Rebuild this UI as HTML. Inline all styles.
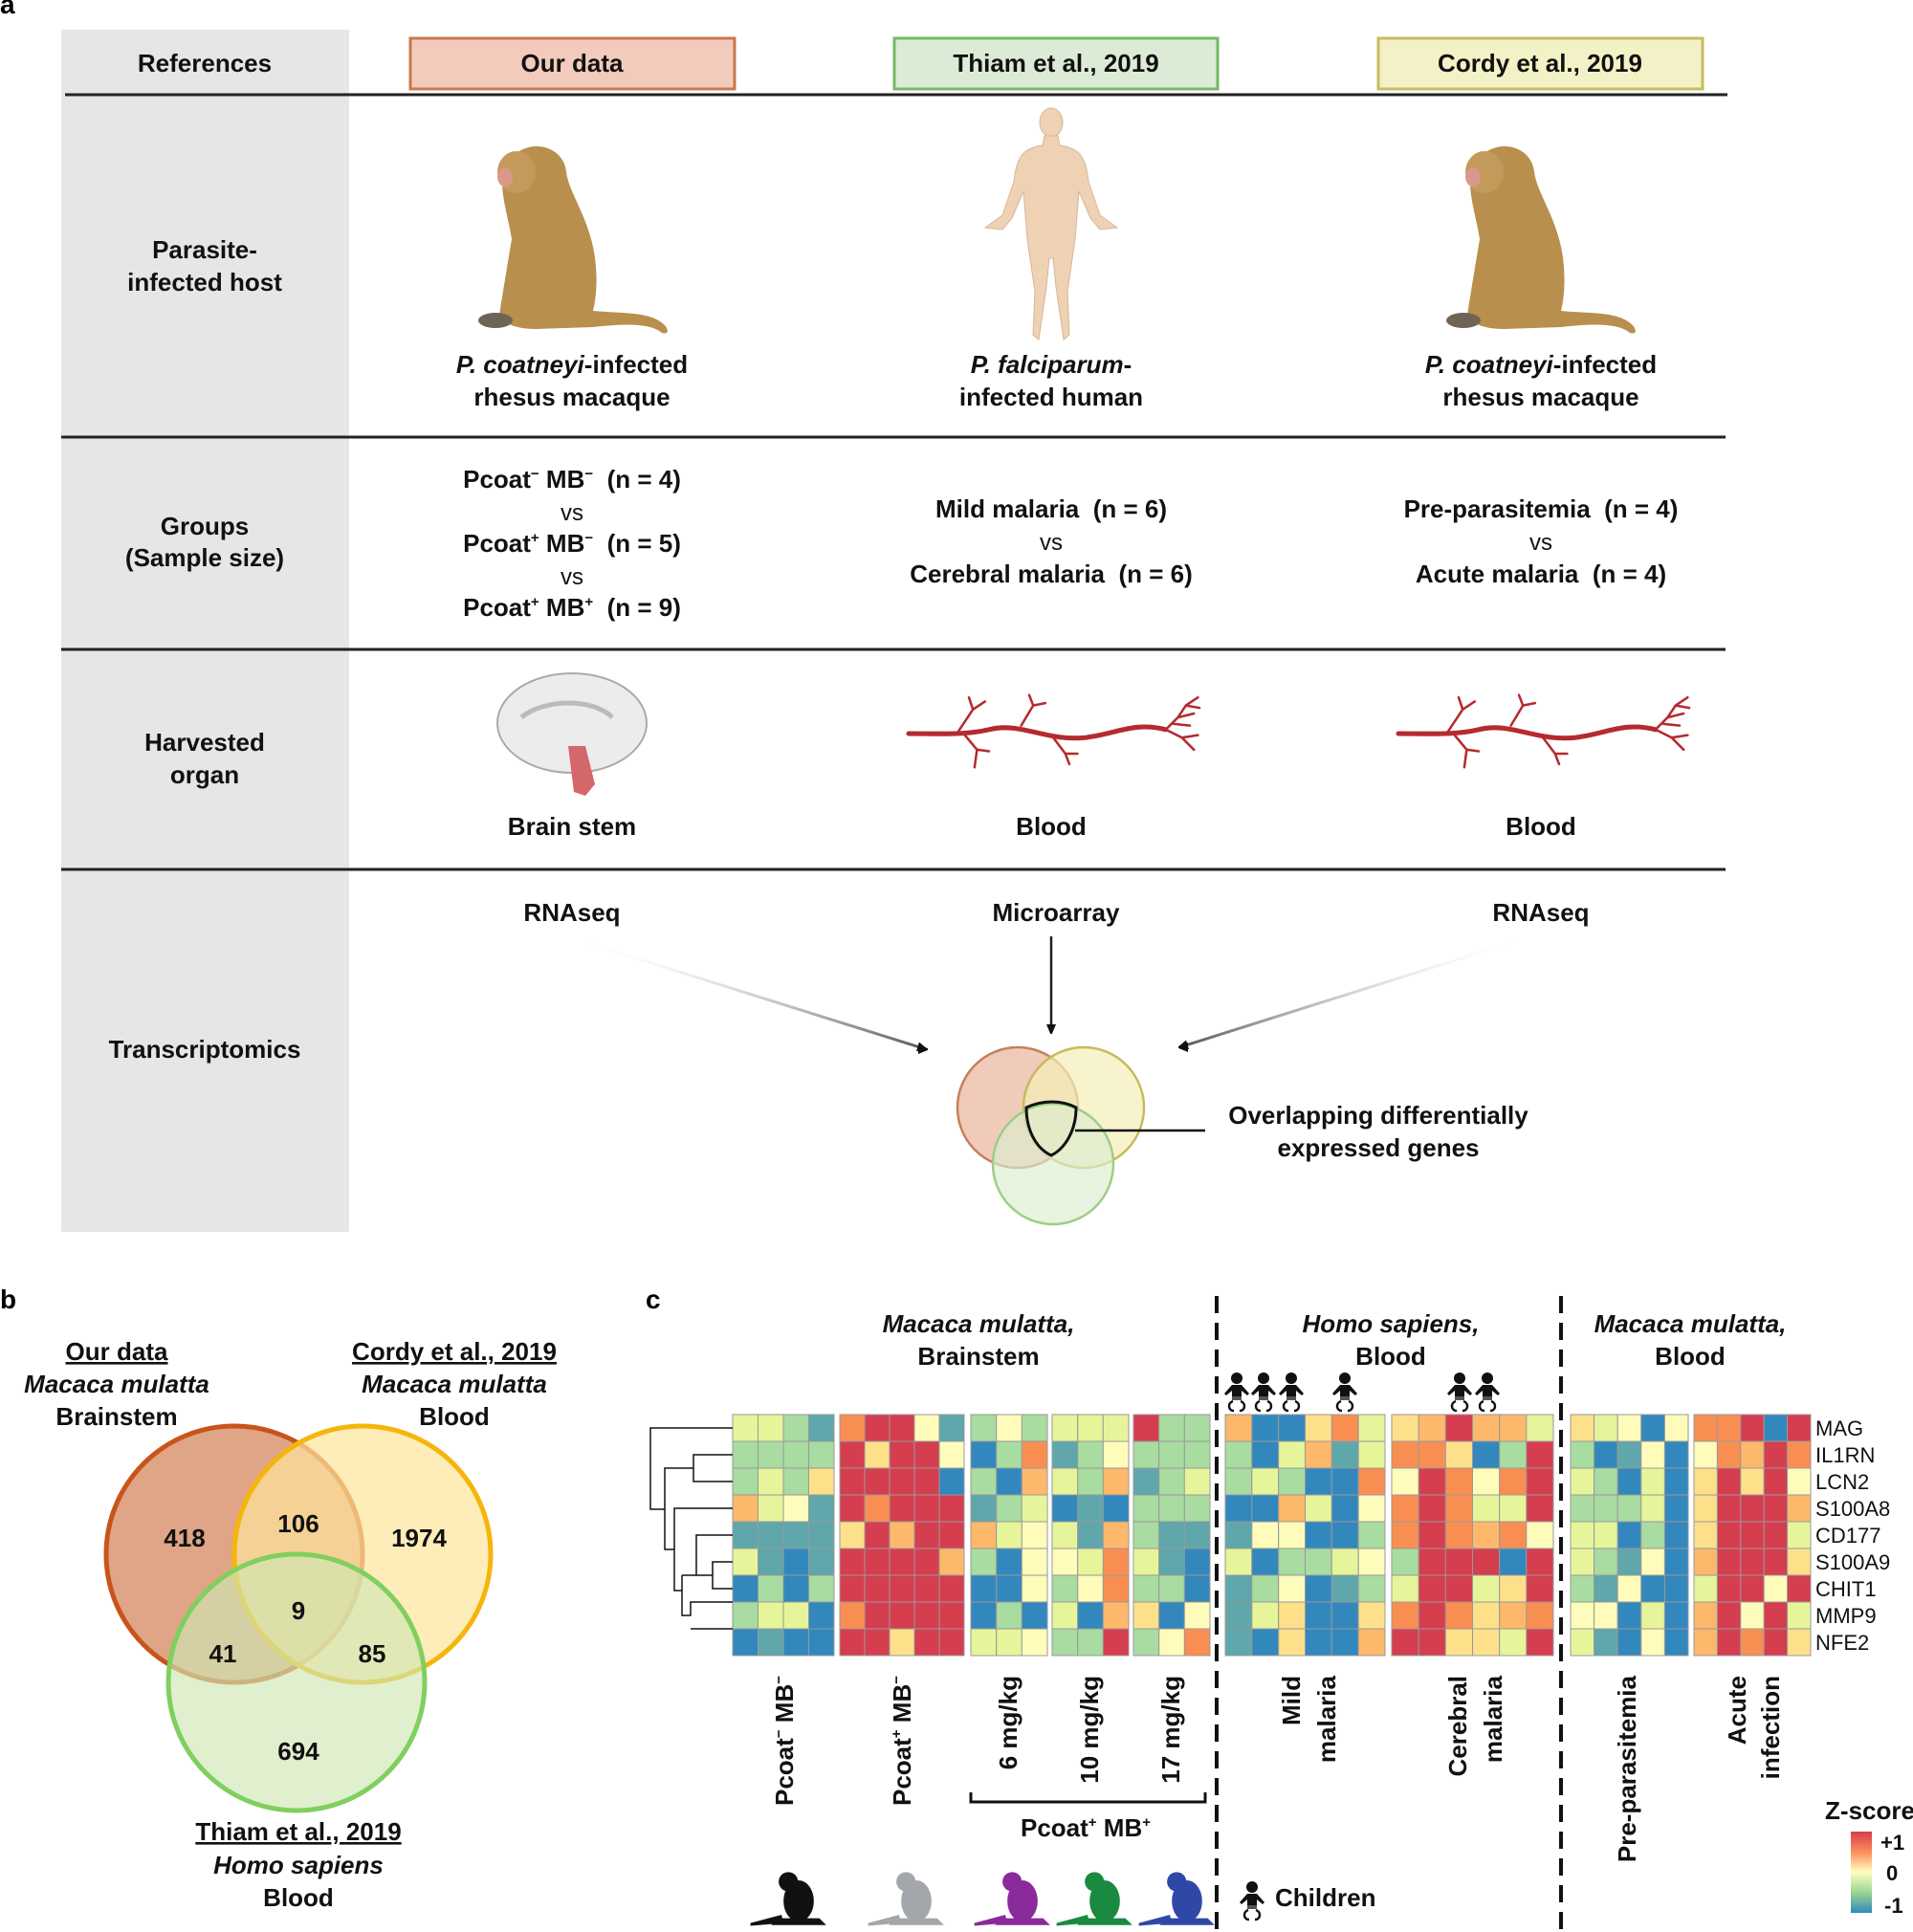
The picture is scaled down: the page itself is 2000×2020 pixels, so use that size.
<!DOCTYPE html>
<html><head><meta charset="utf-8"><style>
html,body{margin:0;padding:0;background:#fff;}
svg{display:block;font-family:"Liberation Sans",Arial,sans-serif;}
.t{font-size:26px;font-weight:bold;fill:#111;text-anchor:middle;}
.n{font-size:24px;fill:#111;text-anchor:middle;}
.i{font-style:italic;}
</style></head><body>
<svg id="s" width="2000" height="2020" viewBox="0 0 2000 2020" xmlns="http://www.w3.org/2000/svg">
<defs>
<marker id="ah" markerWidth="10" markerHeight="10" refX="9" refY="5" orient="auto" markerUnits="userSpaceOnUse"><path d="M0,0 L12,5 L0,10 Z" fill="#111"/></marker>
<linearGradient id="zg" x1="0" y1="0" x2="0" y2="1"><stop offset="0" stop-color="#d53e4f"/><stop offset="0.25" stop-color="#fc8d59"/><stop offset="0.5" stop-color="#ffffbf"/><stop offset="0.75" stop-color="#99d594"/><stop offset="1" stop-color="#3288bd"/></linearGradient>
<linearGradient id="ga1" x1="0" y1="0" x2="1" y2="0"><stop offset="0" stop-color="#fff" stop-opacity="0"/><stop offset="1" stop-color="#555"/></linearGradient>
<linearGradient id="ga2" x1="1" y1="0" x2="0" y2="0"><stop offset="0" stop-color="#fff" stop-opacity="0"/><stop offset="1" stop-color="#555"/></linearGradient>
<g id="monkey">
<path d="M-30,-120 C-10,-135 20,-125 22,-100 C25,-80 40,-60 48,-30 C55,-5 55,25 50,45 C80,48 110,45 125,60 C130,66 128,70 122,68 C110,58 85,58 50,62 L-10,64 C-30,64 -45,58 -48,50 C-45,30 -40,0 -35,-30 C-38,-50 -45,-70 -45,-90 Z" fill="#b88f4d"/>
<ellipse cx="-30" cy="-100" rx="20" ry="22" fill="#c49a5a"/>
<ellipse cx="-42" cy="-95" rx="8" ry="10" fill="#d79a8a"/>
<ellipse cx="-52" cy="55" rx="18" ry="8" fill="#6f6357"/>
</g>
<g id="vessel" fill="none" stroke="#b52a2e" stroke-linecap="round">
<path d="M0,50 C40,50 70,52 100,45 C140,35 170,60 220,55 C260,50 280,35 320,45" stroke-width="6"/>
<path d="M60,50 L80,20 L95,10 M80,20 L75,5 M70,52 L85,70 L82,92 M85,70 L100,72 M140,40 L155,15 M155,15 L150,2 M155,15 L170,12 M180,55 L195,75 L200,88 M195,75 L210,75 M320,45 L335,30 L345,15 M335,30 L355,25 M320,45 L340,55 L355,70 M340,55 L360,52 M330,38 L350,40 M345,15 L360,5 M345,15 L362,18" stroke-width="3"/>
</g>
<g id="sil">
<ellipse cx="0" cy="-20" rx="22" ry="30"/>
<circle cx="-15" cy="-48" r="14"/>
<path d="M-30,5 L30,5 L40,15 L-40,15 Z"/>
<path d="M-25,0 L-70,12 L-70,16 L-22,12 Z"/>
</g>
<g id="baby" fill="#111">
<circle cx="0" cy="-12" r="6"/>
<path d="M-5,-5 L5,-5 L13,4 L11,6 L5,1 L5,8 L-5,8 L-5,1 L-11,6 L-13,4 Z"/>
<rect x="-5" y="7" width="10" height="4" fill="#555"/>
<path d="M-4,12 C-10,14 -9,22 -3,22 M4,12 C10,14 9,22 3,22" stroke="#111" stroke-width="2.5" fill="none"/>
</g>
</defs>

<!-- PANEL A -->
<text x="0" y="14" font-size="28" font-weight="bold">a</text>
<rect x="64" y="31" width="301" height="1257" fill="#e6e6e6"/>
<line x1="68" y1="99" x2="1806" y2="99" stroke="#222" stroke-width="3"/>
<line x1="64" y1="457" x2="1804" y2="457" stroke="#222" stroke-width="3"/>
<line x1="64" y1="679" x2="1804" y2="679" stroke="#222" stroke-width="3"/>
<line x1="64" y1="909" x2="1804" y2="909" stroke="#222" stroke-width="3"/>

<rect x="429" y="40" width="339" height="53" fill="#f2cbbd" stroke="#c8794d" stroke-width="3"/>
<rect x="935" y="40" width="338" height="53" fill="#dcebd6" stroke="#78b866" stroke-width="3"/>
<rect x="1441" y="40" width="339" height="53" fill="#f3f1c6" stroke="#c8bb60" stroke-width="3"/>
<text class="t" x="598" y="75">Our data</text>
<text class="t" x="1104" y="75">Thiam et al., 2019</text>
<text class="t" x="1610" y="75">Cordy et al., 2019</text>
<text class="t" x="214" y="75">References</text>

<text class="t" x="214" y="270">Parasite-</text>
<text class="t" x="214" y="304">infected host</text>
<text class="t" x="214" y="559">Groups</text>
<text class="t" x="214" y="592">(Sample size)</text>
<text class="t" x="214" y="785">Harvested</text>
<text class="t" x="214" y="819">organ</text>
<text class="t" x="214" y="1106">Transcriptomics</text>

<use href="#monkey" x="570" y="280"/>
<use href="#monkey" x="1582" y="280"/>
<!-- human -->
<g fill="#efd2b4" stroke="#d6b699" stroke-width="1">
<ellipse cx="1099" cy="128" rx="12" ry="15"/>
<path d="M1092,142 L1106,142 L1108,152 C1130,155 1135,165 1138,190 L1150,225 L1168,238 L1150,240 L1140,228 L1128,200 L1124,250 L1116,305 L1118,350 L1112,355 L1104,300 L1101,270 L1097,270 L1094,300 L1086,355 L1080,350 L1082,305 L1074,250 L1070,200 L1058,228 L1048,240 L1030,238 L1048,225 L1060,190 C1063,165 1068,155 1090,152 Z"/>
</g>
<text class="t" x="598" y="390"><tspan class="i">P. coatneyi</tspan>-infected</text>
<text class="t" x="598" y="424">rhesus macaque</text>
<text class="t" x="1099" y="390"><tspan class="i">P. falciparum</tspan>-</text>
<text class="t" x="1099" y="424">infected human</text>
<text class="t" x="1611" y="390"><tspan class="i">P. coatneyi</tspan>-infected</text>
<text class="t" x="1611" y="424">rhesus macaque</text>

<text class="t" x="598" y="510">Pcoat<tspan font-size="15" dy="-10">−</tspan><tspan dy="10"> MB</tspan><tspan font-size="15" dy="-10">−</tspan><tspan dy="10">&#160;&#160;(n = 4)</tspan></text>
<text class="n" x="598" y="544">vs</text>
<text class="t" x="598" y="577">Pcoat<tspan font-size="15" dy="-10">+</tspan><tspan dy="10"> MB</tspan><tspan font-size="15" dy="-10">−</tspan><tspan dy="10">&#160;&#160;(n = 5)</tspan></text>
<text class="n" x="598" y="611">vs</text>
<text class="t" x="598" y="644">Pcoat<tspan font-size="15" dy="-10">+</tspan><tspan dy="10"> MB</tspan><tspan font-size="15" dy="-10">+</tspan><tspan dy="10">&#160;&#160;(n = 9)</tspan></text>
<text class="t" x="1099" y="541">Mild malaria&#160;&#160;(n = 6)</text>
<text class="n" x="1099" y="575">vs</text>
<text class="t" x="1099" y="609">Cerebral malaria&#160;&#160;(n = 6)</text>
<text class="t" x="1611" y="541">Pre-parasitemia&#160;&#160;(n = 4)</text>
<text class="n" x="1611" y="575">vs</text>
<text class="t" x="1611" y="609">Acute malaria&#160;&#160;(n = 4)</text>

<!-- brain -->
<ellipse cx="598" cy="756" rx="78" ry="52" fill="#ececec" stroke="#aaa" stroke-width="2"/>
<path d="M545,750 C570,730 620,730 640,750" fill="none" stroke="#bbb" stroke-width="5"/>
<path d="M594,780 L612,780 L622,820 L612,832 L600,828 Z" fill="#d4676a"/>
<use href="#vessel" transform="translate(950,725) scale(0.84)"/>
<use href="#vessel" transform="translate(1462,725) scale(0.84)"/>
<text class="t" x="598" y="873">Brain stem</text>
<text class="t" x="1099" y="873">Blood</text>
<text class="t" x="1611" y="873">Blood</text>

<text class="t" x="598" y="963">RNAseq</text>
<text class="t" x="1104" y="963">Microarray</text>
<text class="t" x="1611" y="963">RNAseq</text>
<line x1="598" y1="981" x2="968" y2="1097" stroke="url(#ga1)" stroke-width="3" marker-end="url(#ah)"/>
<line x1="968" y1="1097" x2="969" y2="1097" stroke="#333" stroke-width="3" marker-end="url(#ah)"/>
<line x1="1099" y1="979" x2="1099" y2="1080" stroke="#222" stroke-width="2.5" marker-end="url(#ah)"/>
<line x1="1601" y1="979" x2="1233" y2="1095" stroke="url(#ga2)" stroke-width="3" marker-end="url(#ah)"/>
<line x1="1234" y1="1095" x2="1233" y2="1095" stroke="#333" stroke-width="3" marker-end="url(#ah)"/>

<circle cx="1064" cy="1158" r="63" fill="#eab59d" fill-opacity="0.7" stroke="#c5805c" stroke-width="2.5"/>
<circle cx="1133" cy="1158" r="63" fill="#f4f0b8" fill-opacity="0.7" stroke="#c7bb5b" stroke-width="2.5"/>
<circle cx="1101" cy="1217" r="63" fill="#dcedcf" fill-opacity="0.65" stroke="#9ccf86" stroke-width="2.5"/>
<path d="M1073,1158 C1090,1150 1110,1150 1125,1158 C1125,1180 1115,1200 1099,1208 C1082,1200 1073,1180 1073,1158 Z" fill="none" stroke="#111" stroke-width="3"/>
<line x1="1124" y1="1182" x2="1260" y2="1182" stroke="#111" stroke-width="2.5"/>
<text class="t" x="1441" y="1175">Overlapping differentially</text>
<text class="t" x="1441" y="1209">expressed genes</text>

<!-- PANEL B -->
<text x="0" y="1368" font-size="28" font-weight="bold">b</text>
<circle cx="245" cy="1625" r="134" fill="#dc9b79" fill-opacity="0.9" stroke="#c8541c" stroke-width="5"/>
<circle cx="379" cy="1625" r="134" fill="#fde49b" fill-opacity="0.7" stroke="#f5b50a" stroke-width="5"/>
<circle cx="310" cy="1759" r="134" fill="#cfe6b4" fill-opacity="0.65" stroke="#7fd05e" stroke-width="5"/>
<text class="t" x="193" y="1617">418</text>
<text class="t" x="312" y="1602">106</text>
<text class="t" x="438" y="1617">1974</text>
<text class="t" x="312" y="1693">9</text>
<text class="t" x="233" y="1738">41</text>
<text class="t" x="389" y="1738">85</text>
<text class="t" x="312" y="1840">694</text>
<text class="t" x="122" y="1422" text-decoration="underline">Our data</text>
<text class="t i" x="122" y="1456">Macaca mulatta</text>
<text class="t" x="122" y="1490">Brainstem</text>
<text class="t" x="475" y="1422" text-decoration="underline">Cordy et al., 2019</text>
<text class="t i" x="475" y="1456">Macaca mulatta</text>
<text class="t" x="475" y="1490">Blood</text>
<text class="t" x="312" y="1924" text-decoration="underline">Thiam et al., 2019</text>
<text class="t i" x="312" y="1959">Homo sapiens</text>
<text class="t" x="312" y="1993">Blood</text>

<!-- PANEL C -->
<text x="675" y="1368" font-size="28" font-weight="bold">c</text>
<text class="t i" x="1023" y="1393">Macaca mulatta,</text>
<text class="t" x="1023" y="1427">Brainstem</text>
<text class="t i" x="1454" y="1393">Homo sapiens,</text>
<text class="t" x="1454" y="1427">Blood</text>
<text class="t i" x="1767" y="1393">Macaca mulatta,</text>
<text class="t" x="1767" y="1427">Blood</text>
<line x1="1272" y1="1355" x2="1272" y2="2020" stroke="#111" stroke-width="4" stroke-dasharray="18,10"/>
<line x1="1632" y1="1355" x2="1632" y2="2020" stroke="#111" stroke-width="4" stroke-dasharray="18,10"/>
<use href="#baby" x="1293" y="1453"/><use href="#baby" x="1321" y="1453"/><use href="#baby" x="1350" y="1453"/>
<use href="#baby" x="1406" y="1453"/><use href="#baby" x="1526" y="1453"/><use href="#baby" x="1555" y="1453"/>

<g id="hm"></g>
<!-- dendrogram -->
<g stroke="#111" stroke-width="1.5" fill="none">
<path d="M766,1493 H680 V1578 H695"/>
<path d="M766,1521 H725 V1549 H766"/>
<path d="M725,1535 H695 V1620 H705"/>
<path d="M766,1577 H705 V1663 H713"/>
<path d="M766,1605 H728 V1647 H713"/>
<path d="M766,1633 H745 V1661 H766"/>
<path d="M745,1647 H728"/>
<path d="M713,1647 V1689 H722 V1675 H766"/>
<path d="M722,1703 H766"/>
</g>
<g font-size="22" fill="#111">
<text x="1898" y="1501">MAG</text><text x="1898" y="1529">IL1RN</text><text x="1898" y="1557">LCN2</text>
<text x="1898" y="1585">S100A8</text><text x="1898" y="1613">CD177</text><text x="1898" y="1641">S100A9</text>
<text x="1898" y="1669">CHIT1</text><text x="1898" y="1697">MMP9</text><text x="1898" y="1725">NFE2</text>
</g>

<g font-size="26" font-weight="bold" fill="#111">
<text transform="translate(829,1752) rotate(-90)" text-anchor="end">Pcoat<tspan font-size="15" dy="-10">−</tspan><tspan dy="10"> MB</tspan><tspan font-size="15" dy="-10">−</tspan></text>
<text transform="translate(952,1752) rotate(-90)" text-anchor="end">Pcoat<tspan font-size="15" dy="-10">+</tspan><tspan dy="10"> MB</tspan><tspan font-size="15" dy="-10">−</tspan></text>
<text transform="translate(1063,1752) rotate(-90)" text-anchor="end">6 mg/kg</text>
<text transform="translate(1148,1752) rotate(-90)" text-anchor="end">10 mg/kg</text>
<text transform="translate(1233,1752) rotate(-90)" text-anchor="end">17 mg/kg</text>
<text transform="translate(1359,1752) rotate(-90)" text-anchor="end">Mild</text>
<text transform="translate(1396,1752) rotate(-90)" text-anchor="end">malaria</text>
<text transform="translate(1533,1752) rotate(-90)" text-anchor="end">Cerebral</text>
<text transform="translate(1570,1752) rotate(-90)" text-anchor="end">malaria</text>
<text transform="translate(1710,1752) rotate(-90)" text-anchor="end">Pre-parasitemia</text>
<text transform="translate(1825,1752) rotate(-90)" text-anchor="end">Acute</text>
<text transform="translate(1860,1752) rotate(-90)" text-anchor="end">infection</text>
</g>
<path d="M1015,1874 V1884 H1260 V1874" fill="none" stroke="#111" stroke-width="3"/>
<text class="t" x="1135" y="1920">Pcoat<tspan font-size="15" dy="-10">+</tspan><tspan dy="10"> MB</tspan><tspan font-size="15" dy="-10">+</tspan></text>

<use href="#sil" transform="translate(835,2002) scale(0.72)" fill="#111"/>
<use href="#sil" transform="translate(958,2002) scale(0.72)" fill="#a3a6aa"/>
<use href="#sil" transform="translate(1069,2002) scale(0.72)" fill="#8b2a9a"/>
<use href="#sil" transform="translate(1155,2002) scale(0.72)" fill="#1a8a40"/>
<use href="#sil" transform="translate(1241,2002) scale(0.72)" fill="#2f48a8"/>
<use href="#baby" x="1309" y="1985"/>
<text x="1333" y="1993" font-size="26" font-weight="bold" fill="#111">Children</text>

<text class="t" x="1955" y="1902">Z-score</text>
<rect x="1935" y="1915" width="22" height="85" fill="url(#zg)"/>
<g font-size="22" font-weight="bold" fill="#111">
<text x="1966" y="1934">+1</text><text x="1972" y="1966">0</text><text x="1970" y="2000">-1</text>
</g>
</svg>
<script>
var C={R:"#d53e4f",O:"#f98e52",o:"#fdb86b",Y:"#fee08b",y:"#fffcbb",g:"#e6f59a",G:"#a8dca0",T:"#5fa7ab",B:"#3288bd"};
var blocks=[
[766,106,["ggGT","GGGG","GgGY","ogyT","TTTT","gTBT","BGBG","GggB","BTBB"]],
[878,130,["ORRyT","RYRRy","RRRRB","RORRR","YRoRR","RRRRo","RRRRR","ORRRR","RRYRR"]],
[1015,80,["GyG","BGO","GBo","TGg","ogy","GBy","BBy","BGB","ggy"]],
[1100,80,["ggg","TGy","gGo","BTB","gTo","ygO","GyO","gBo","GGR"]],
[1185,80,["RGG","GGG","TGg","GGG","GTT","gTB","GGB","YBy","GyO"]],
[1281,167,["oBBYOg","GBgoTg","GgGBBO","BBogBy","TyyBBG","gBGGgy","TGyBTG","TgYBBY","TBYBBo"]],
[1455,169,["YoRoog","OOYBGR","yROyOR","OROggR","OROoOy","GRRRBR","gRRgYR","OROYoO","RRYYgR"]],
[1642,123,["YgyBy","GBTyB","gGBgB","GGGgB","ggBGB","gGTyB","GTyBB","yyBgB","gTByB"]],
[1771,122,["OORBR","yOoRO","YRYRy","YRRRo","YRRRg","oRRRY","gRRyR","oRyRg","oRORY"]]];
var s="",y0=1479,h=28;
blocks.forEach(function(b){var n=b[2][0].length,w=b[1]/n;
b[2].forEach(function(row,r){for(var c=0;c<n;c++){s+='<rect x="'+(b[0]+c*w).toFixed(1)+'" y="'+(y0+r*h)+'" width="'+w.toFixed(1)+'" height="'+h+'" fill="'+C[row[c]]+'" stroke="#999" stroke-width="1"/>';}});});
document.getElementById("hm").innerHTML=s;
</script>
</body></html>
